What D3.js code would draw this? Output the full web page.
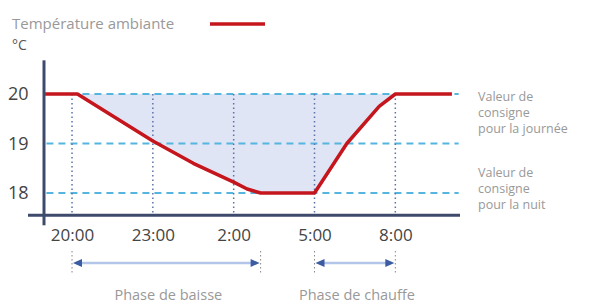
<!DOCTYPE html>
<html>
<head>
<meta charset="utf-8">
<script src="https://cdn.jsdelivr.net/npm/d3@7"></script>
<style>
  body { margin: 0; background: #fff; }
  text { font-family: "Open Sans", sans-serif; }
</style>
</head>
<body>
<svg id="chart" width="595" height="305"></svg>
<script>
// hours counted from midnight of the first day (26 = 2:00 next day)
const hours = [19, 20.2, 23, 24.5, 26, 26.5, 27, 29, 30.2, 31.4, 32, 34.1];
const temperature = [20, 20, 19.05, 18.6, 18.22, 18.08, 18, 18, 19, 19.75, 20, 20];

const xTicks = [20, 23, 26, 29, 32];
const xTickLabels = ['20:00', '23:00', '2:00', '5:00', '8:00'];
const yTicks = [20, 19, 18];

const setpointLabels = [
  ['Valeur de', 'consigne', 'pour la journée'],
  ['Valeur de', 'consigne', 'pour la nuit']
];
const setpointValues = [20, 18];

const phaseLabels = ['Phase de baisse', 'Phase de chauffe'];
const phaseStart = [20, 29];
const phaseEnd = [27, 32];

const svg = d3.select('#chart');

const x = d3.scaleLinear().domain([18.96, 34.4]).range([44, 460]);
const y = d3.scaleLinear().domain([18, 20]).range([193, 94]);

const axisY = y(17.55);
const data = hours.map((h, i) => ({h, t: temperature[i]}));

// shaded area between day setpoint and actual temperature
const area = d3.area()
  .x(d => x(d.h))
  .y0(y(20))
  .y1(d => y(d.t));

svg.append('path')
  .datum(data.filter(d => d.h >= 20.2 && d.h <= 32))
  .attr('d', area)
  .attr('fill', '#dfe5f4');

// dashed horizontal grid
svg.append('g')
  .selectAll('line')
  .data(yTicks)
  .join('line')
    .attr('x1', x(19.05))
    .attr('x2', x(34.35))
    .attr('y1', d => y(d))
    .attr('y2', d => y(d))
    .attr('stroke', '#55b5df')
    .attr('stroke-width', 2)
    .attr('stroke-dasharray', '7,5');

// dotted verticals at each hour tick
svg.append('g')
  .selectAll('line')
  .data(xTicks)
  .join('line')
    .attr('x1', d => x(d))
    .attr('x2', d => x(d))
    .attr('y1', y(20))
    .attr('y2', axisY)
    .attr('stroke', '#5a72a8')
    .attr('stroke-width', 1.5)
    .attr('stroke-dasharray', '1.5,3');

// axes lines
svg.append('line')
  .attr('x1', 28).attr('x2', 460)
  .attr('y1', axisY).attr('y2', axisY)
  .attr('stroke', '#3e4a6c').attr('stroke-width', 3);

svg.append('line')
  .attr('x1', 44).attr('x2', 44)
  .attr('y1', y(20.68)).attr('y2', axisY + 10)
  .attr('stroke', '#3e4a6c').attr('stroke-width', 3);

// tick labels
const xAxis = svg.append('g')
  .attr('transform', `translate(0, ${axisY})`)
  .call(d3.axisBottom(x)
    .tickValues(xTicks)
    .tickFormat((d, i) => xTickLabels[i])
    .tickSize(0)
    .tickPadding(14));
xAxis.select('.domain').remove();
xAxis.selectAll('text')
  .style('font-family', '"Open Sans", sans-serif')
  .attr('font-size', 17)
  .attr('fill', '#444');

const yAxis = svg.append('g')
  .attr('transform', 'translate(34, 0)')
  .call(d3.axisLeft(y).tickValues(yTicks).tickFormat(d3.format('d')).tickSize(0));
yAxis.select('.domain').remove();
yAxis.selectAll('text')
  .style('font-family', '"Open Sans", sans-serif')
  .attr('text-anchor', 'start')
  .attr('x', -26)
  .attr('font-size', 18)
  .attr('fill', '#444');

// temperature line
const line = d3.line()
  .x(d => x(d.h))
  .y(d => y(d.t));

svg.append('path')
  .datum(data)
  .attr('d', line)
  .attr('fill', 'none')
  .attr('stroke', '#c4161c')
  .attr('stroke-width', 3.5)
  .attr('stroke-linejoin', 'round');

// legend
svg.append('text')
  .attr('x', 12).attr('y', 29)
  .attr('font-size', 15)
  .attr('fill', '#999')
  .text('Température ambiante');
svg.append('line')
  .attr('x1', 210).attr('x2', 265)
  .attr('y1', 24).attr('y2', 24)
  .attr('stroke', '#c4161c').attr('stroke-width', 3.5);
svg.append('text')
  .attr('x', 12).attr('y', 50)
  .attr('font-size', 14)
  .attr('fill', '#555')
  .text('°C');

// setpoint labels on the right, one text per line
setpointLabels.forEach((lines, i) => {
  const top = y(setpointValues[i]) + (i === 0 ? 7 : -16);
  lines.forEach((s, j) => {
    svg.append('text')
      .attr('x', 478)
      .attr('y', top + j * 16)
      .attr('font-size', 12.5)
      .attr('fill', '#999')
      .text(s);
  });
});

// phase arrows
const arrowY = 263;
const phases = svg.append('g');
phaseLabels.forEach((label, i) => {
  const x0 = x(phaseStart[i]);
  const x1 = x(phaseEnd[i]);
  [x0, x1].forEach(px => {
    phases.append('line')
      .attr('x1', px).attr('x2', px)
      .attr('y1', arrowY - 12).attr('y2', arrowY + 12)
      .attr('stroke', '#888').attr('stroke-width', 1)
      .attr('stroke-dasharray', '1.5,2.5');
  });
  phases.append('line')
    .attr('x1', x0 + 4).attr('x2', x1 - 4)
    .attr('y1', arrowY).attr('y2', arrowY)
    .attr('stroke', '#b3c6ea').attr('stroke-width', 2.5);
  phases.append('path')
    .attr('d', `M${x0 + 1},${arrowY} l9,-4 l0,8 z`)
    .attr('fill', '#3b5ba2');
  phases.append('path')
    .attr('d', `M${x1 - 1},${arrowY} l-9,-4 l0,8 z`)
    .attr('fill', '#3b5ba2');
  phases.append('text')
    .attr('x', (x0 + x1) / 2 + 2)
    .attr('y', 300)
    .attr('text-anchor', 'middle')
    .attr('font-size', 14.5)
    .attr('fill', '#999')
    .text(label);
});
</script>
</body>
</html>
